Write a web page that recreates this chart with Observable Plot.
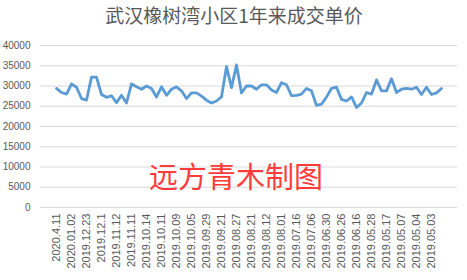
<!DOCTYPE html>
<html>
<head>
<meta charset="utf-8">
<script src="https://cdn.jsdelivr.net/npm/d3@7"></script>
<script src="https://cdn.jsdelivr.net/npm/@observablehq/plot@0.6"></script>
<style>
  html, body { margin: 0; padding: 0; background: #fff; }
</style>
</head>
<body>
<div id="chart"></div>
<script>
const title = "武汉橡树湾小区1年来成交单价";
const watermark = "远方青木制图";
// labels shown on every third category, from left to right
const tickLabels = ["2020.4.11","2020.01.02","2019.12.23","2019.12.1","2019.11.12","2019.11.11","2019.10.14","2019.10.11","2019.10.09","2019.10.05","2019.09.29","2019.09.21","2019.08.27","2019.08.21","2019.08.12","2019.08.01","2019.07.16","2019.07.06","2019.06.30","2019.06.26","2019.06.16","2019.05.28","2019.05.17","2019.05.07","2019.05.04","2019.05.03"];
// unit price per transaction, left to right
const prices = [29400,28400,28000,30500,29700,26900,26500,32200,32200,27900,
  27200,27600,25900,27700,25800,30500,29800,29200,30000,29400,
  27300,29800,27700,29200,29800,28800,26900,28300,28300,27500,
  26500,25800,26300,27300,34800,29600,35200,28300,30000,30000,
  29200,30300,30300,29000,28400,30800,30300,27600,27700,28000,
  29400,28800,25200,25500,27300,29400,29700,26700,26300,27300,
  24700,25800,28400,28000,31500,28800,28800,31800,28400,29200,
  29400,29200,29700,27900,29700,27900,28300,29400];
const yTicks = [0,5000,10000,15000,20000,25000,30000,35000,40000];

const data = prices.map((v, i) => ({i, v}));
const idx = d3.range(prices.length);

const chart = Plot.plot({
  width: 467,
  height: 280,
  marginTop: 45,
  marginBottom: 73,
  marginLeft: 40,
  marginRight: 10,
  style: {fontFamily: "'Liberation Sans', Arial, sans-serif", background: "#fff", color: "#595959"},
  x: {type: "point", domain: idx, padding: 0.5},
  y: {domain: [0, 40000]},
  marks: [
    Plot.gridY(yTicks, {stroke: "#d9d9d9", strokeOpacity: 1, strokeWidth: 1}),
    Plot.axisY(yTicks, {tickSize: 0, tickPadding: 10, fontSize: 10, fill: "#595959", label: null,
      tickFormat: d => String(d)}),
    Plot.axisX(idx.filter(i => i % 3 === 0), {
      tickSize: 0, tickPadding: 6, tickRotate: -90, fontSize: 11, fill: "#595959", label: null,
      tickFormat: i => tickLabels[i / 3]
    }),
    Plot.line(data, {x: "i", y: "v", stroke: "#5B9BD5", strokeWidth: 2.8, strokeLinejoin: "round"}),
    Plot.text([title], {frameAnchor: "top", dx: -15, dy: -29, text: d => d, fontSize: 19, fill: "#595959",
      fontFamily: "'Noto Sans CJK SC', sans-serif", lineAnchor: "middle"}),
    Plot.text([watermark], {frameAnchor: "middle", dx: -13, dy: 52, text: d => d, fontSize: 29, fill: "#ff3b3b",
      fontFamily: "'Noto Sans CJK SC', sans-serif"})
  ]
});
document.getElementById("chart").appendChild(chart);
</script>
</body>
</html>
